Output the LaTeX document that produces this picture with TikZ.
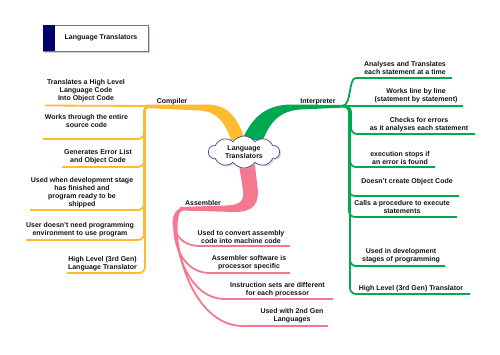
\documentclass[tikz,border=0pt]{standalone}
\usepackage{fontspec}
\setmainfont{Liberation Sans}
\usetikzlibrary{shapes.symbols,shadows}
\definecolor{cyel}{RGB}{253,188,46}
\definecolor{cgrn}{RGB}{0,168,80}
\definecolor{cpnk}{RGB}{246,120,144}
\definecolor{cnavy}{RGB}{0,0,110}
\definecolor{cline}{RGB}{70,70,150}
\definecolor{cbox}{RGB}{110,110,170}
\definecolor{ctext}{RGB}{20,20,20}
\tikzset{
  txt/.style={font=\bfseries\fontsize{7}{8}\selectfont, align=center, inner sep=0pt, text=ctext},
  ybr/.style={draw=cyel, line width=1.8pt, rounded corners=6pt},
  gbr/.style={draw=cgrn, line width=1.8pt, rounded corners=6pt},
  pbr/.style={draw=cpnk, line width=1.8pt},
}
\begin{document}
\begin{tikzpicture}[x=1pt,y=-1pt]
\useasboundingbox (0,0) rectangle (500,354);
% title
\node[draw=cbox, fill=white, line width=0.6pt, minimum width=105pt, minimum height=26pt, inner sep=0pt,
  drop shadow={shadow xshift=1.5pt, shadow yshift=-1.5pt, fill=gray!70}] (tbox) at (95.5,38) {};
\fill[cnavy] (tbox.north west) rectangle ([xshift=12pt]tbox.south west);
\node[txt] (title) at (101,38) {Language Translators};
% hubs
\coordinate (hc) at (150,106);
\coordinate (hi) at (342,106);
\coordinate (ha) at (184,208.5);
% tapered main branches
\fill[cyel] (145,104.5) -- (207,104.5) .. controls (228,104.5) and (238,118) .. (245,140)
  -- (231,140) .. controls (225,123) and (218,112) .. (200,110.5) -- (145,108) -- cycle;
\fill[cgrn] (242,140) .. controls (252,118) and (265,104.5) .. (292,104.5) -- (345,105) -- (345,107.5)
  -- (300,109.5) .. controls (280,111) and (270,122) .. (263,140) -- cycle;
\fill[cpnk] (239,165) -- (243,190) .. controls (245,202) and (238,205.5) .. (225,205.5) -- (180,207)
  -- (180,210.5) -- (235,212) .. controls (252,212) and (258,205) .. (258,192) -- (255,165) -- cycle;
% cloud
\node[cloud, cloud puffs=10, cloud puff arc=110, aspect=2.3, draw=cline, fill=white, line width=0.7pt, minimum width=71pt,
  minimum height=32pt, inner sep=0pt, txt,
  drop shadow={shadow xshift=1.5pt, shadow yshift=-1.5pt, fill=gray!60}] (root) at (244,152)
  {Language\\Translators};
% branch labels
\node[txt] (lc) at (172,101.5) {Compiler};
\node[txt] (li) at (318,101.5) {Interpreter};
\node[txt] (la) at (203,203) {Assembler};
% compiler
\coordinate (c1e) at (45,105.5);
\coordinate (c2e) at (43,139);
\coordinate (c3e) at (62,167);
\coordinate (c4e) at (30,210);
\coordinate (c5e) at (26,240);
\coordinate (c6e) at (67,273);
\draw[ybr] (hc) -- (c1e);
\draw[ybr] (hc) -| (144,139) -- (c2e);
\draw[ybr] (hc) -| (144,167) -- (c3e);
\draw[ybr] (hc) -| (144,210) -- (c4e);
\draw[ybr] (hc) -| (144,240) -- (c5e);
\draw[ybr] (hc) -| (145,273) -- (c6e);
\node[txt] (c1) at (86,91) {Translates a High Level\\Language Code\\Into Object Code};
\node[txt] (c2) at (86.5,121) {Works through the entire\\source code};
\node[txt] (c3) at (98,157) {Generates Error List\\and Object Code};
\node[txt] (c4) at (82,193) {Used when development stage\\has finished and\\program ready to be\\shipped};
\node[txt] (c5) at (80,230) {User doesn't need programming\\environment to use program};
\node[txt] (c6) at (102.5,263.5) {High Level (3rd Gen)\\Language Translator};
% interpreter
\coordinate (i1e) at (452,78);
\coordinate (i2e) at (463,106);
\coordinate (i3e) at (475,134);
\coordinate (i4e) at (435,167);
\coordinate (i5e) at (459,196);
\coordinate (i6e) at (457,217);
\coordinate (i7e) at (445,266);
\coordinate (i8e) at (470,294);
\draw[gbr] (hi) .. controls (352,106) and (348,78) .. (362,78) -- (i1e);
\draw[gbr] (hi) -- (i2e);
\draw[gbr] (hi) -| (351,134) -- (i3e);
\draw[gbr] (hi) -| (350,167) -- (i4e);
\draw[gbr] (hi) -| (349,196) -- (i5e);
\draw[gbr] (hi) -| (349,217) -- (i6e);
\draw[gbr] (hi) -| (350,266) -- (i7e);
\draw[gbr] (hi) -| (350,294) -- (i8e);
\node[txt] (i1) at (405,68) {Analyses and Translates\\each statement at a time};
\node[txt] (i2) at (416,96) {Works line by line\\(statement by statement)};
\node[txt] (i3) at (419,125) {Checks for errors\\as it analyses each statement};
\node[txt] (i4) at (400,157.5) {execution stops if\\an error is found};
\node[txt] (i5) at (407,182) {Doesn't create Object Code};
\node[txt] (i6) at (402,207) {Calls a procedure to execute\\statements};
\node[txt] (i7) at (401,256) {Used in development\\stages of programming};
\node[txt] (i8) at (411,289) {High Level (3rd Gen) Translator};
% assembler
\coordinate (a1e) at (290,246);
\coordinate (a2e) at (290,273);
\coordinate (a3e) at (333,299);
\coordinate (a4e) at (328,326);
\draw[pbr] (ha) .. controls (168,208.5) and (168,246) .. (200,246) -- (a1e);
\draw[pbr] (ha) .. controls (167,208.5) and (170,273) .. (210,273) -- (a2e);
\draw[pbr] (ha) .. controls (166,208.5) and (176,299) .. (225,299) -- (a3e);
\draw[pbr] (ha) .. controls (165,208.5) and (182,326) .. (243,326) -- (a4e);
\node[txt] (a1) at (241,237) {Used to convert assembly\\code into machine code};
\node[txt] (a2) at (249,263) {Assembler software is\\processor specific};
\node[txt] (a3) at (277.5,289.5) {Instruction sets are different\\for each processor};
\node[txt] (a4) at (292,316) {Used with 2nd Gen\\Languages};
\end{tikzpicture}
\end{document}
